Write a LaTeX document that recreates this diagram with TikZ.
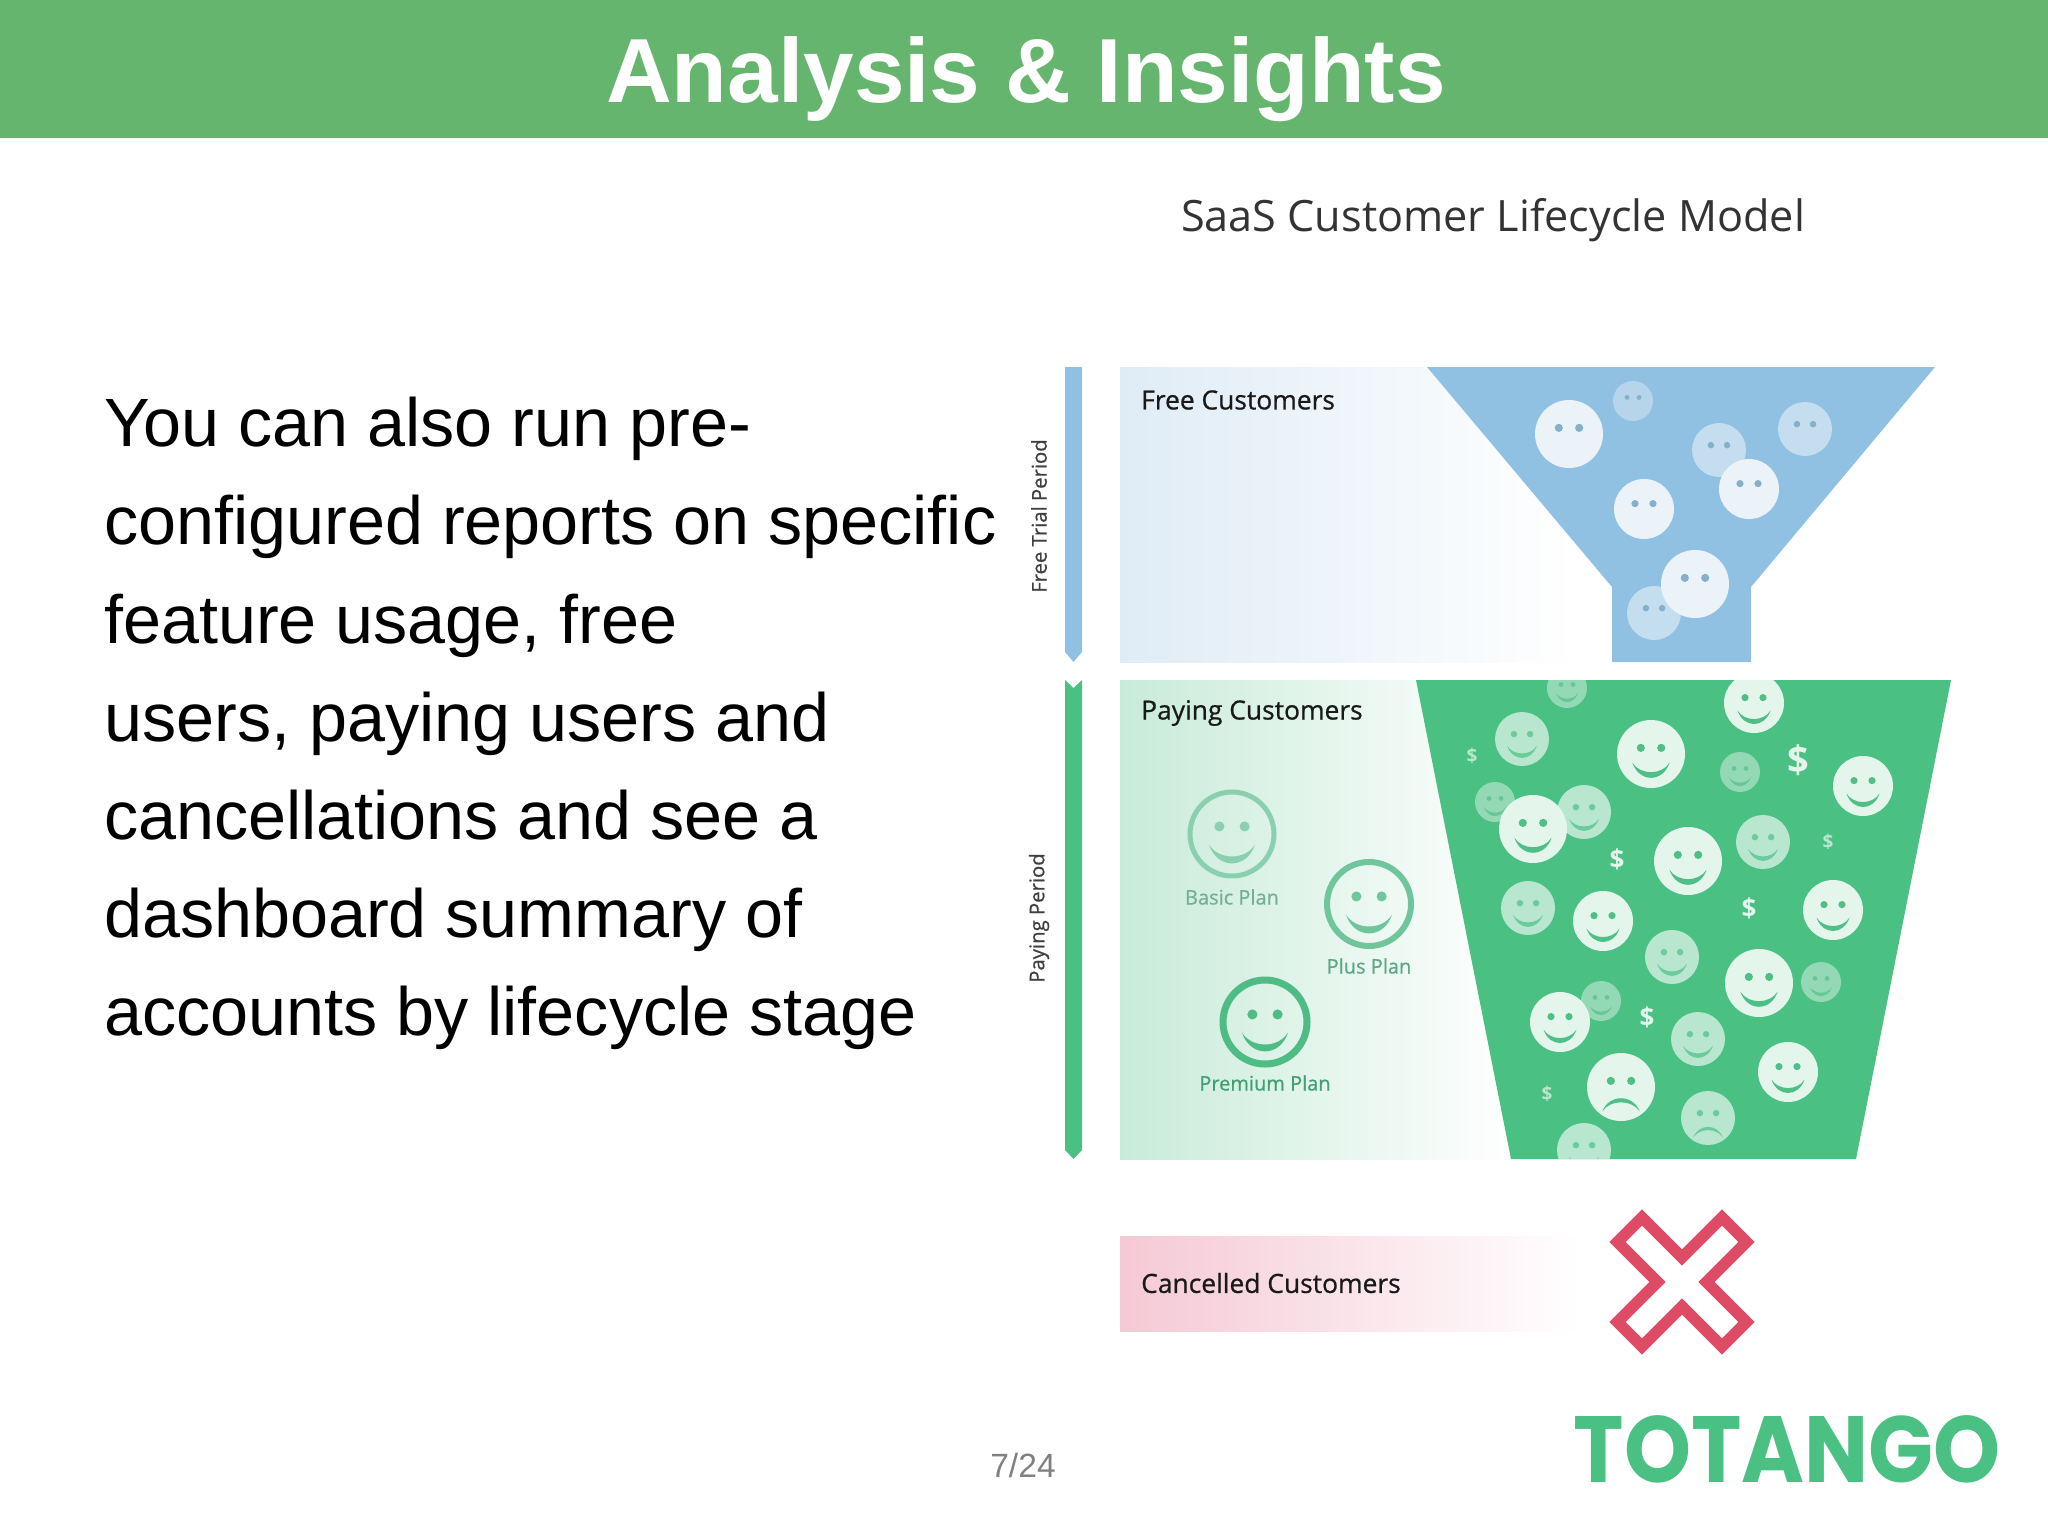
\documentclass[tikz,border=0pt]{standalone}
\usepackage{fontspec}
\setmainfont{Liberation Sans}
\newfontfamily\chartfont[FakeBold=0.7]{Open Sans}
\newfontfamily\modelfont{Open Sans}
\newfontfamily\logofont[FakeStretch=0.907]{Poppins}
\definecolor{band}{HTML}{66B56E}
\definecolor{sky}{HTML}{90C1E3}
\definecolor{skypale}{HTML}{DFECF6}
\definecolor{bfacea}{HTML}{EBF3F9}
\definecolor{bfaceb}{HTML}{C4DDEF}
\definecolor{bfacec}{HTML}{B6D5EB}
\definecolor{beye}{HTML}{86AFC8}
\definecolor{mint}{HTML}{4AC083}
\definecolor{mintpale}{HTML}{C8EBD9}
\definecolor{gfacea}{HTML}{E4F5EC}
\definecolor{gfaceb}{HTML}{B9E6CE}
\definecolor{gfacec}{HTML}{94D9B5}
\definecolor{ginka}{HTML}{4FBF87}
\definecolor{ginkb}{HTML}{6CCB9B}
\definecolor{ginkc}{HTML}{66C695}
\definecolor{plana}{HTML}{8ACFAE}
\definecolor{planb}{HTML}{6FC59C}
\definecolor{planc}{HTML}{4FBB85}
\definecolor{rose}{HTML}{F5C9D5}
\definecolor{cross}{HTML}{DE4B64}
\tikzset{
	eyes/.pic={\fill (-.3,-.18) circle (.12) (.3,-.18) circle (.12);},
	smile/.pic={\fill (-.55,.25) .. controls (-.35,.85) and (.35,.85) .. (.55,.25) .. controls (.32,.63) and (-.32,.63) .. (-.55,.25);},
	frown/.pic={\fill (-.55,.72) .. controls (-.35,.2) and (.35,.2) .. (.55,.72) .. controls (.32,.36) and (-.32,.36) .. (-.55,.72);},
	sectionlabel/.style={anchor=west,inner sep=0,text=black!90,font=\chartfont\fontsize{26.4}{26.4}\selectfont},
	periodlabel/.style={rotate=90,inner sep=0,text=black!75,font=\chartfont\fontsize{20.3}{20.3}\selectfont},
	planlabel/.style={inner sep=0,font=\chartfont\fontsize{20}{20}\selectfont}
}
\begin{document}
\begin{tikzpicture}[x=1pt,y=-1pt]
	\path[use as bounding box,fill=white] (0,0) rectangle (2048,1536);
	\fill[band] (0,0) rectangle (2048,138);
	\node[inner sep=0,text=white,font=\bfseries\fontsize{91}{91}\selectfont] (head) at (1026,79) {Analysis \& Insights};
	\node[anchor=north west,inner sep=0,align=left,text=black,font=\fontsize{68.3}{98.2}\selectfont] (body) at (104,397)
	{You can also run pre-\\configured reports on specific\\feature usage, free\\users, paying users and\\cancellations and see a\\dashboard summary of\\accounts by lifecycle stage};
	\node[inner sep=0,text=black!50,font=\fontsize{33.6}{33.6}\selectfont] (pagenum) at (1023,1465) {7/24};
	\node[inner sep=0,text=black!80,font=\modelfont\fontsize{43.2}{43.2}\selectfont] (model) at (1493,220) {SaaS Customer Lifecycle Model};

	\fill[sky] (1065,367) -- (1082,367) -- (1082,652) -- (1073.5,662) -- (1065,652) -- cycle;
	\node[periodlabel] (freeperiod) at (1039,516) {Free Trial Period};
	\shade[left color=skypale,right color=white] (1120,367) rectangle (1577,662);
	\fill[sky] (1427,367) -- (1935,367) -- (1751,587) -- (1751,662) -- (1612,662) -- (1612,587) -- cycle;
	\node[sectionlabel] (freecust) at (1141,400) {Free Customers};
	\foreach \x/\y/\r/\c in {1633/401/20/c,1719/450/27/b,1805/429/27/b,1654/613/27/b,1569/434/34/a,1749/489/30/a,1644/509/30/a,1695/584/34/a}{
		\begin{scope}[shift={(\x,\y)},scale=\r]
			\fill[bface\c] (0,0) circle (1);
			\pic[color=beye,transform shape] {eyes};
		\end{scope}
	}

	\fill[mint] (1065,680) -- (1073.5,688) -- (1082,680) -- (1082,1150) -- (1073.5,1159) -- (1065,1150) -- cycle;
	\node[periodlabel] (payperiod) at (1039,918) {Paying Period};
	\shade[left color=mintpale,right color=white] (1120,680) rectangle (1515,1159);
	\fill[mint] (1416,680) -- (1951,680) -- (1856,1159) -- (1511,1159) -- cycle;
	\node[sectionlabel] (paycust) at (1141,713) {Paying Customers};
	\foreach \x/\y/\c/\w/\p/\t/\ty in {1232/834/plana/5/basic/Basic Plan/897,1369/904/planb/6/plus/Plus Plan/966,1265/1022/planc/7/premium/Premium Plan/1083}{
		\begin{scope}[shift={(\x,\y)},scale=42]
			\draw[\c,line width=\w pt] (0,0) circle (1);
			\pic[color=\c,transform shape] {eyes};
			\pic[color=\c,transform shape] {smile};
		\end{scope}
		\node[planlabel,text=\c!85!black] (\p) at (\x,\ty) {\t};
	}
	\begin{scope}
		\clip (1416,680) -- (1951,680) -- (1856,1159) -- (1511,1159) -- cycle;
		\foreach \x/\y/\r/\c in {1567/688/20/c,1754/703/30/a,1522/739/27/b,1651/754/34/a,1740/772/20/c,1863/786/30/a,1495/802/20/c,1584/812/27/b,1533/829/34/a,1688/861/34/a,1763/842/27/b,1528/908/27/b,1603/921/30/a,1833/910/30/a,1672/957/27/b,1759/983/34/a,1821/982/20/c,1601/1001/20/c,1560/1022/30/a,1698/1039/27/b,1788/1072/30/a,1584/1150/27/b}{
			\begin{scope}[shift={(\x,\y)},scale=\r]
				\fill[gface\c] (0,0) circle (1);
				\pic[color=gink\c,transform shape] {eyes};
				\pic[color=gink\c,transform shape] {smile};
			\end{scope}
		}
		\foreach \x/\y/\r/\c in {1621/1087/34/a,1708/1118/27/b}{
			\begin{scope}[shift={(\x,\y)},scale=\r]
				\fill[gface\c] (0,0) circle (1);
				\pic[color=gink\c,transform shape] {eyes};
				\pic[color=gink\c,transform shape] {frown};
			\end{scope}
		}
	\end{scope}
	\foreach \x/\y/\s/\c [count=\i] in {1472/756/19/gfaceb,1798/760/38/gfacea,1617/859/26/gfacea,1828/842/19/gfaceb,1749/908/26/gfacea,1647/1017/26/gfacea,1547/1094/19/gfaceb}{
		\node[inner sep=0,text=\c,font=\modelfont\bfseries\fontsize{\s}{\s}\selectfont] (dollar\i) at (\x,\y) {\$};
	}

	\shade[left color=rose,right color=white] (1120,1236) rectangle (1581,1331);
	\node[sectionlabel] (cancelled) at (1141,1283) {Cancelled Customers};
	\draw[cross,line width=11.5pt,miter limit=4,shift={(1682,1282)}] (0,-24.5) -- (40,-64.5) -- (64.5,-40) -- (24.5,0) -- (64.5,40) -- (40,64.5) -- (0,24.5) -- (-40,64.5) -- (-64.5,40) -- (-24.5,0) -- (-64.5,-40) -- (-40,-64.5) -- cycle;
	\node[inner sep=0,text=mint,font=\logofont\bfseries\fontsize{94}{94}\selectfont] (logo) at (1787,1449) {TOTANGO};
\end{tikzpicture}
\end{document}
